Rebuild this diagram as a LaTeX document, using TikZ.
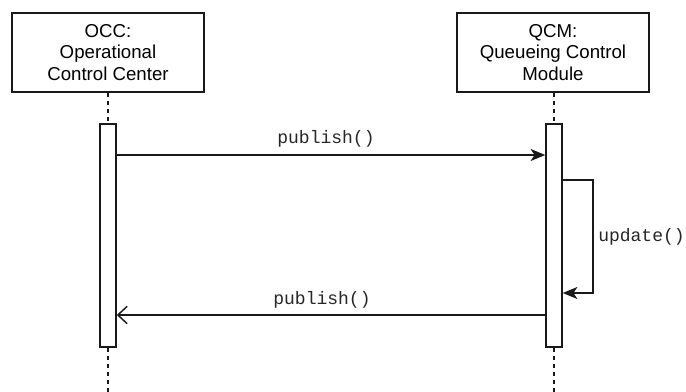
\documentclass[tikz,border=0pt]{standalone}
\usepackage{fontspec}
\setmainfont{Liberation Sans}
\setmonofont{Liberation Mono}
\usetikzlibrary{arrows.meta}

\tikzset{
  actor/.style={draw=black!90, line width=1.1pt, fill=white, rectangle,
    minimum width=144pt, minimum height=59.25pt, align=center,
    font=\fontsize{14}{16.2}\selectfont, inner sep=0pt},
  activation/.style={draw=black!90, line width=1.1pt, fill=white, rectangle,
    minimum width=12pt, minimum height=167.25pt, inner sep=0pt},
  lifeline/.style={draw=black!90, line width=1.1pt, dash pattern=on 3.5pt off 2.5pt},
  syncmsg/.style={draw=black!90, line width=1.1pt, -{Stealth[length=11pt,width=9pt,inset=3pt]}},
  replymsg/.style={draw=black!90, line width=1.1pt, -{Straight Barb[length=7pt,width=13pt]}},
  msglabel/.style={font=\fontsize{13.5}{15}\ttfamily, text=black!85, inner sep=0pt}
}

\begin{document}
\begin{tikzpicture}[x=0.75pt,y=-0.75pt]
\useasboundingbox (0,0) rectangle (686,392);

% participants
\node[actor] (occ) at (108,52.5) {OCC:\\Operational\\Control Center};
\node[actor] (qcm) at (553,52.5) {QCM:\\Queueing Control\\Module};

% lifeline ends
\coordinate (occend) at (108,392);
\coordinate (qcmend) at (554,392);

% activation bars
\node[activation] (actA) at (108,235.5) {};
\node[activation] (actB) at (554,235.5) {};

% dashed lifelines
\draw[lifeline] (occ.south) -- (actA.north);
\draw[lifeline] (actA.south) -- (occend);
\draw[lifeline] (qcm.south -| actB.north) -- (actB.north);
\draw[lifeline] (actB.south) -- (qcmend);

% publish() from OCC to QCM
\draw[syncmsg] (actA.east |- 0,155) -- (actB.west |- 0,155);
\node[msglabel] (lbl1) at (326,139) {publish()};

% self call update()
\coordinate (selfR1) at (593,180);
\coordinate (selfR2) at (593,293);
\draw[syncmsg] (actB.east |- selfR1) -- (selfR1) -- (selfR2) -- (actB.east |- selfR2);
\node[msglabel, anchor=west] (lbl2) at (598,237) {update()};

% publish() back from QCM to OCC
\draw[replymsg] (actB.west |- 0,315) -- (actA.east |- 0,315);
\node[msglabel] (lbl3) at (322,300) {publish()};
\end{tikzpicture}
\end{document}
